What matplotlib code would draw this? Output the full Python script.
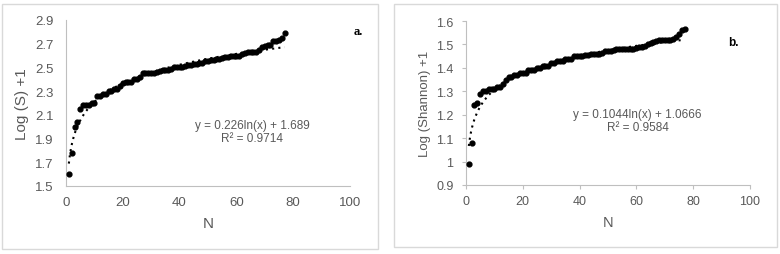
import numpy as np
import matplotlib
matplotlib.use("Agg")
import matplotlib.pyplot as plt
from matplotlib.patches import Rectangle

plt.rcParams['font.family'] = ['Liberation Sans', 'DejaVu Sans']

n = np.arange(1, 78)

log_s = [1.60, 1.78, 2.00, 2.04, 2.15, 2.18, 2.18, 2.18, 2.20, 2.20,
         2.26, 2.26, 2.28, 2.28, 2.30, 2.30, 2.32, 2.32, 2.34, 2.37,
         2.38, 2.38, 2.38, 2.40, 2.40, 2.42, 2.45, 2.45, 2.45, 2.45,
         2.45, 2.46, 2.47, 2.48, 2.48, 2.48, 2.49, 2.50, 2.50, 2.50,
         2.50, 2.51, 2.52, 2.52, 2.53, 2.53, 2.54, 2.54, 2.55, 2.55,
         2.56, 2.56, 2.57, 2.57, 2.58, 2.59, 2.59, 2.60, 2.60, 2.60,
         2.60, 2.61, 2.62, 2.63, 2.63, 2.63, 2.63, 2.65, 2.67, 2.68,
         2.69, 2.69, 2.72, 2.72, 2.73, 2.75, 2.79]

log_shannon = [0.99, 1.08, 1.24, 1.25, 1.29, 1.30, 1.30, 1.31, 1.31, 1.31,
               1.32, 1.32, 1.33, 1.35, 1.36, 1.36, 1.37, 1.37, 1.38, 1.38,
               1.38, 1.39, 1.39, 1.39, 1.40, 1.40, 1.41, 1.41, 1.41, 1.42,
               1.42, 1.43, 1.43, 1.43, 1.44, 1.44, 1.44, 1.45, 1.45, 1.45,
               1.45, 1.455, 1.455, 1.46, 1.46, 1.46, 1.46, 1.465, 1.47, 1.47,
               1.47, 1.475, 1.48, 1.48, 1.48, 1.48, 1.48, 1.48, 1.48, 1.485,
               1.49, 1.49, 1.495, 1.50, 1.505, 1.51, 1.515, 1.52, 1.52, 1.52,
               1.52, 1.52, 1.525, 1.53, 1.545, 1.56, 1.565]

# trendline coefficients as printed on the chart
fit_s = (0.226, 1.689, 0.9714)
fit_h = (0.1044, 1.0666, 0.9584)

grey = '#595959'
spine = '#bfbfbf'

fig = plt.figure(figsize=(7.8, 2.55), dpi=100)

# panel frames
fig.patches.append(Rectangle((2 / 780, 1 - 250 / 255), 376 / 780, 245 / 255,
                             transform=fig.transFigure, fill=False,
                             edgecolor='#d9d9d9', lw=1))
fig.patches.append(Rectangle((394 / 780, 1 - 248 / 255), 383 / 780, 243 / 255,
                             transform=fig.transFigure, fill=False,
                             edgecolor='#d9d9d9', lw=1))

ax1 = fig.add_axes([0.0846, 0.2667, 0.364, 0.651])
ax2 = fig.add_axes([0.5974, 0.2706, 0.364, 0.643])


def style(ax, ticklen):
    for s in ['top', 'right']:
        ax.spines[s].set_visible(False)
    for s in ['left', 'bottom']:
        ax.spines[s].set_color(spine)
    ax.tick_params(colors=spine, labelcolor=grey, length=ticklen, labelsize=9.5)
    ax.tick_params(axis='y', pad=9 - ticklen)
    ax.tick_params(axis='x', pad=7 - ticklen)
    ax.set_xlim(0, 100)
    ax.set_xticks([0, 20, 40, 60, 80, 100])


xt = np.linspace(1, 77, 200)

# Part a
ax1.scatter(n, log_s, s=12, color='black', zorder=3)
ax1.plot(xt, fit_s[0] * np.log(xt) + fit_s[1], color='black', ls=(0, (1, 2)), lw=1.5)
style(ax1, 0)
ax1.set_ylim(1.5, 2.9)
ax1.set_yticks(np.arange(1.5, 2.91, 0.2))
ax1.set_yticklabels([f"{v:.1f}" for v in np.arange(1.5, 2.91, 0.2)])
ax1.set_xlabel('N', color=grey, fontsize=11, labelpad=6)
ax1.set_ylabel('Log (S) +1', color=grey, fontsize=11, labelpad=4)
ax1.text(65.5, 1.96, f"y = {fit_s[0]}ln(x) + {fit_s[1]}\nR² = {fit_s[2]}",
         ha='center', va='center', color=grey, fontsize=8.5, linespacing=1.1)
fig.text(358 / 780, 1 - 32 / 255, 'a.', ha='center', va='center', fontsize=9,
         fontweight='bold', family='Liberation Serif')

# Part b
ax2.scatter(n, log_shannon, s=12, color='black', zorder=3)
ax2.plot(xt, fit_h[0] * np.log(xt) + fit_h[1], color='black', ls=(0, (1, 2)), lw=1.5)
style(ax2, 3)
ax2.set_ylim(0.9, 1.6)
ax2.set_yticks([0.9, 1.0, 1.1, 1.2, 1.3, 1.4, 1.5, 1.6])
ax2.set_yticklabels(['0.9', '1', '1.1', '1.2', '1.3', '1.4', '1.5', '1.6'])
ax2.tick_params(labelsize=9)
ax2.set_xlabel('N', color=grey, fontsize=10.5, labelpad=6)
ax2.set_ylabel('Log (Shannon) +1', color=grey, fontsize=9.5, labelpad=4)
ax2.text(60.5, 1.175, f"y = {fit_h[0]}ln(x) + {fit_h[1]}\nR² = {fit_h[2]}",
         ha='center', va='center', color=grey, fontsize=8.5, linespacing=1.1)
fig.text(733 / 780, 1 - 43 / 255, 'b.', ha='center', va='center', fontsize=8.5,
         fontweight='bold')

fig.savefig('out.png', dpi=100)
